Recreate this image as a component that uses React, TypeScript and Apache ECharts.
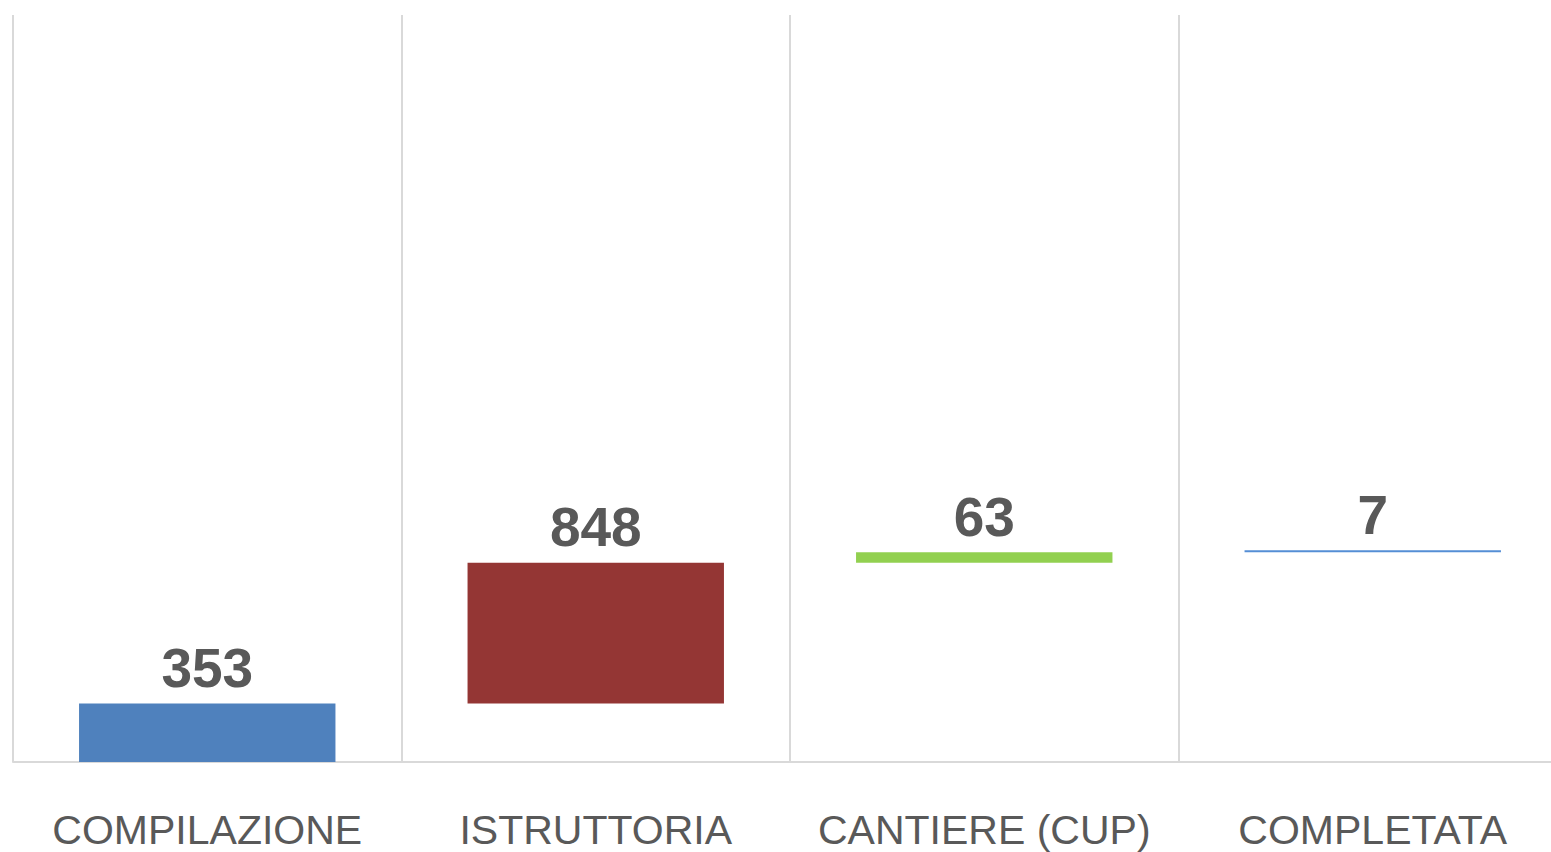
import React, { useEffect, useRef } from "react";
import * as echarts from "echarts";

const categories = ["COMPILAZIONE", "ISTRUTTORIA", "CANTIERE (CUP)", "COMPLETATA"];
const values = [353, 848, 63, 7];
const barColors = ["#4F81BD", "#943634", "#92D050", "#558ED5"];

export default function App() {
  const ref = useRef<HTMLDivElement>(null);
  useEffect(() => {
    if (!ref.current) return;
    const chart = echarts.init(ref.current, undefined, { renderer: "svg" });
    const bases: number[] = [];
    let acc = 0;
    values.forEach((v) => {
      bases.push(acc);
      acc += v;
    });
    chart.setOption({
      animation: false,
      backgroundColor: "#ffffff",
      grid: { left: 13, right: -16, top: 15, bottom: 90, outerBoundsMode: "none", containLabel: false },
      xAxis: {
        type: "category",
        data: categories,
        axisLine: { show: true, lineStyle: { color: "#d9d9d9", width: 2 } },
        axisTick: { show: false },
        splitLine: { show: true, interval: 0, lineStyle: { color: "#d9d9d9", width: 2 } },
        axisLabel: {
          interval: 0,
          margin: 47,
          color: "#595959",
          fontSize: 41,
          fontFamily: "Liberation Sans",
        },
      },
      yAxis: {
        type: "value",
        show: false,
        min: 0,
        max: 4500,
        splitLine: { show: false },
      },
      series: [
        {
          type: "bar",
          stack: "wf",
          data: bases,
          itemStyle: { color: "transparent" },
          barCategoryGap: "34%",
          silent: true,
        },
        {
          type: "bar",
          stack: "wf",
          barCategoryGap: "34%",
          barMinHeight: 2,
          data: values.map((v, i) => ({ value: v, itemStyle: { color: barColors[i] } })),
          label: {
            show: true,
            position: "top",
            distance: 8,
            color: "#595959",
            fontWeight: "bold",
            fontSize: 55,
            fontFamily: "Liberation Sans",
          },
        },
      ],
    });
    return () => chart.dispose();
  }, []);
  return (
    <div
      ref={ref}
      style={{ position: "fixed", left: 0, top: 0, width: 1551, height: 852, background: "#fff" }}
    />
  );
}
